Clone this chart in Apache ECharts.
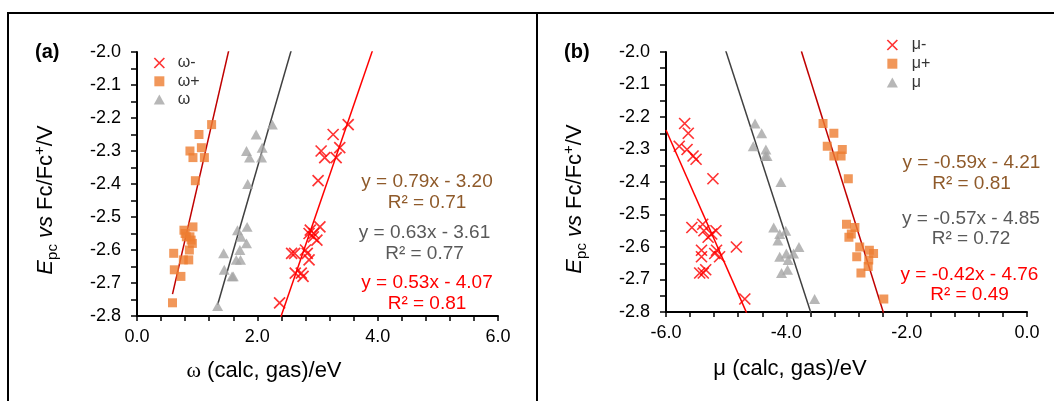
<!DOCTYPE html>
<html><head><meta charset="utf-8">
<script src="https://cdn.jsdelivr.net/npm/echarts@6/dist/echarts.min.js"></script>
<style>html,body{margin:0;padding:0;background:#fff;}#chart{width:1054px;height:401px;}</style>
</head><body><div id="chart"></div>
<script>
// ---------- Panel (a): omega descriptors ----------
const omegaMinusX = [3.51, 3.26, 3.06, 3.37, 3.12, 3.31, 3.01, 3.04, 2.88, 2.86, 2.94, 2.93, 2.99, 2.80, 2.83, 2.57, 2.62, 2.86, 2.63, 2.76, 2.73, 2.37];
const omegaMinusY = [-2.22, -2.25, -2.30, -2.29, -2.32, -2.32, -2.39, -2.53, -2.54, -2.55, -2.55, -2.56, -2.57, -2.60, -2.61, -2.61, -2.61, -2.63, -2.67, -2.68, -2.67, -2.76];
const omegaPlusX = [1.24, 1.03, 0.88, 1.07, 0.93, 1.12, 0.97, 0.78, 0.93, 0.82, 0.92, 0.88, 0.87, 0.77, 0.86, 0.61, 0.62, 0.73, 0.59, 0.80, 0.90];
const omegaPlusY = [-2.22, -2.25, -2.30, -2.29, -2.32, -2.32, -2.39, -2.54, -2.53, -2.56, -2.58, -2.56, -2.60, -2.63, -2.63, -2.61, -2.66, -2.68, -2.76, -2.55, -2.57];
const omegaX = [2.25, 1.98, 1.82, 2.08, 1.87, 2.07, 1.84, 1.67, 1.83, 1.73, 1.82, 1.71, 1.65, 1.72, 1.44, 1.45, 1.58, 1.60, 1.34];
const omegaY = [-2.22, -2.25, -2.30, -2.29, -2.32, -2.32, -2.40, -2.54, -2.53, -2.56, -2.58, -2.60, -2.63, -2.63, -2.61, -2.66, -2.68, -2.68, -2.77];

// ---------- Panel (b): mu descriptors ----------
const muMinusX = [-5.69, -5.63, -5.78, -5.65, -5.55, -5.50, -5.22, -5.57, -5.39, -5.37, -5.17, -5.30, -5.24, -5.41, -5.41, -5.16, -5.19, -5.11, -4.83, -5.44, -5.38, -5.34, -4.69];
const muMinusY = [-2.22, -2.25, -2.29, -2.30, -2.32, -2.33, -2.39, -2.54, -2.53, -2.55, -2.55, -2.57, -2.56, -2.61, -2.63, -2.61, -2.62, -2.63, -2.60, -2.68, -2.68, -2.67, -2.76];
const muPlusX = [-3.39, -3.21, -3.32, -3.21, -3.09, -3.07, -2.97, -3.00, -2.86, -2.92, -2.96, -2.78, -2.62, -2.55, -2.83, -2.63, -2.76, -2.64, -2.38];
const muPlusY = [-2.22, -2.25, -2.29, -2.32, -2.32, -2.30, -2.39, -2.53, -2.54, -2.56, -2.57, -2.60, -2.61, -2.62, -2.63, -2.64, -2.68, -2.66, -2.76];
const muX = [-4.52, -4.41, -4.55, -4.34, -4.32, -4.35, -4.09, -4.21, -4.01, -4.11, -4.14, -3.79, -4.00, -3.88, -4.11, -3.97, -3.98, -4.08, -3.53];
const muY = [-2.22, -2.25, -2.29, -2.30, -2.32, -2.32, -2.40, -2.54, -2.55, -2.56, -2.58, -2.60, -2.62, -2.62, -2.63, -2.64, -2.67, -2.68, -2.76];

// ---------- Trendlines (order: minus, plus, neutral) ----------
const seriesNamesA = ['ω-', 'ω+', 'ω'];
const seriesNamesB = ['μ-', 'μ+', 'μ'];
const slopesA = [0.53, 0.79, 0.63];
const interceptsA = [-4.07, -3.20, -3.61];
const r2A = [0.81, 0.71, 0.77];
const trendStartA = [2.37, 0.59, 1.34];
const trendEndA = [3.92, 1.53, 2.57];
const slopesB = [-0.42, -0.59, -0.57];
const interceptsB = [-4.76, -4.21, -4.85];
const r2B = [0.49, 0.81, 0.72];
const trendStartB = [-6.0, -3.75, -5.01];
const trendEndB = [-4.66, -2.38, -3.59];

// ---------- Axis ticks ----------
const yMin = -2.8, yMax = -2.0, yStep = 0.1;
const xMinA = 0, xMaxA = 6, xMinB = -6, xMaxB = 0, xStep = 2;

const FONT = '"Liberation Sans", Arial, sans-serif';
const RED = '#FF0000', ORANGE = '#ED7D31', GREY = '#A5A5A5';
const X_PATH = 'path://M0,0L10,10M10,0L0,10';
const SQ_PATH = 'path://M0,0H10V10H0Z';
const TRI_PATH = 'path://M5,0L10,9H0Z';

const zip = (xs, ys) => xs.map((x, i) => [x, ys[i]]);
const eqText = (m, c) => 'y = ' + m.toFixed(2) + 'x ' + (c < 0 ? '- ' : '+ ') + Math.abs(c).toFixed(2);
const r2Text = r => 'R² = ' + r.toFixed(2);

const chart = echarts.init(document.getElementById('chart'), null, {renderer: 'canvas'});

function xAxisCfg(grid, min, max) {
  return {
    gridIndex: grid, type: 'value', min: min, max: max, interval: xStep,
    axisLine: {onZero: false, lineStyle: {color: '#000', width: 2}},
    axisTick: {show: true, length: 5, lineStyle: {color: '#000', width: 1.5}},
    minorTick: {show: true, splitNumber: 5, length: 5, lineStyle: {color: '#000', width: 1.5}},
    splitLine: {show: false}, minorSplitLine: {show: false},
    axisLabel: {formatter: v => v.toFixed(1), fontSize: 18, fontFamily: FONT, color: '#000', margin: 12, hideOverlap: false}
  };
}
function yAxisCfg(grid) {
  return {
    gridIndex: grid, type: 'value', min: yMin, max: yMax, interval: yStep,
    axisLine: {onZero: false, lineStyle: {color: '#000', width: 2}},
    axisTick: {show: true, length: 6, lineStyle: {color: '#000', width: 1.5}},
    minorTick: {show: true, splitNumber: 2, length: 6, lineStyle: {color: '#000', width: 1.5}},
    splitLine: {show: false}, minorSplitLine: {show: false},
    axisLabel: {formatter: v => v.toFixed(1), fontSize: 18, fontFamily: FONT, color: '#000', margin: 16, hideOverlap: false}
  };
}

const markerStyles = [
  {symbol: X_PATH, size: 11, itemStyle: {color: 'rgba(0,0,0,0)', borderColor: RED, borderWidth: 1.7}},
  {symbol: SQ_PATH, size: 9, itemStyle: {color: ORANGE, borderWidth: 0}},
  {symbol: TRI_PATH, size: 11, itemStyle: {color: GREY, borderWidth: 0}}
];
const trendColors = ['#FF0000', '#C00000', '#404040'];
const eqColors = ['#FF0000', '#8F5A2A', '#595959'];

const dataA = [zip(omegaMinusX, omegaMinusY), zip(omegaPlusX, omegaPlusY), zip(omegaX, omegaY)];
const dataB = [zip(muMinusX, muMinusY), zip(muPlusX, muPlusY), zip(muX, muY)];

const series = [];
function addPanel(gi, names, data, slopes, intercepts, starts, ends) {
  for (let i = 0; i < 3; i++) {
    const m = slopes[i], c = intercepts[i];
    series.push({
      type: 'line', xAxisIndex: gi, yAxisIndex: gi, silent: true, symbol: 'none', clip: true,
      lineStyle: {color: trendColors[i], width: 1.5}, z: 1,
      data: [[starts[i], m * starts[i] + c], [ends[i], m * ends[i] + c]]
    });
  }
  for (let i = 0; i < 3; i++) {
    series.push({
      name: names[i], type: 'scatter', xAxisIndex: gi, yAxisIndex: gi,
      symbol: markerStyles[i].symbol, symbolSize: markerStyles[i].size, symbolKeepAspect: true,
      itemStyle: markerStyles[i].itemStyle, z: 3, data: data[i]
    });
  }
}
addPanel(0, seriesNamesA, dataA, slopesA, interceptsA, trendStartA, trendEndA);
addPanel(1, seriesNamesB, dataB, slopesB, interceptsB, trendStartB, trendEndB);

function legendCfg(names, left, top, itemWidth, gap) {
  return {
    orient: 'vertical', left: left, top: top, padding: 0, itemWidth: itemWidth, itemHeight: 10, itemGap: gap,
    selectedMode: false,
    textStyle: {fontSize: 16, lineHeight: 18, fontFamily: FONT, color: '#333'},
    data: names.map((n, i) => ({name: n, icon: markerStyles[i].symbol, itemStyle: markerStyles[i].itemStyle}))
  };
}

function txt(x, y, text, size, color, extra) {
  return Object.assign({
    type: 'text', x: x, y: y, silent: true,
    style: {text: text, fontSize: size, fontFamily: FONT, fill: color, align: 'center', verticalAlign: 'middle'}
  }, extra || {});
}
function yTitle(x, y) {
  return {
    type: 'text', x: x, y: y, rotation: Math.PI / 2, silent: true,
    style: {
      text: '{e|E}{s|pc}{v| vs }{n|Fc/Fc}{p|+}{n|/V}',
      align: 'center', verticalAlign: 'middle', fill: '#000', fontSize: 22, fontFamily: FONT,
      rich: {
        e: {fontStyle: 'italic', fontSize: 22, fontFamily: FONT, fill: '#000', lineHeight: 28},
        s: {fontSize: 15, fontFamily: FONT, fill: '#000', lineHeight: 15, verticalAlign: 'bottom'},
        v: {fontStyle: 'italic', fontSize: 22, fontFamily: FONT, fill: '#000', lineHeight: 28},
        n: {fontSize: 22, fontFamily: FONT, fill: '#000', lineHeight: 28},
        p: {fontSize: 15, fontFamily: FONT, fill: '#000', lineHeight: 15, verticalAlign: 'top'}
      }
    }
  };
}
function xTitle(x, y, sym, serif) {
  return {
    type: 'text', x: x, y: y, silent: true,
    style: {
      text: '{w|' + sym + '}{n| (calc, gas)/eV}', align: 'center', verticalAlign: 'middle', fill: '#000',
      fontSize: 22, fontFamily: FONT,
      rich: {
        w: {fontSize: 22, fontFamily: serif ? '"Liberation Serif", "Times New Roman", serif' : FONT, fill: '#000', lineHeight: 26},
        n: {fontSize: 22, fontFamily: FONT, fill: '#000', lineHeight: 26}
      }
    }
  };
}

const graphics = [
  {type: 'line', silent: true, shape: {x1: 7, y1: 13, x2: 1054, y2: 13}, style: {stroke: '#000', lineWidth: 2}},
  {type: 'line', silent: true, shape: {x1: 8, y1: 12, x2: 8, y2: 401}, style: {stroke: '#000', lineWidth: 2}},
  {type: 'line', silent: true, shape: {x1: 537, y1: 12, x2: 537, y2: 401}, style: {stroke: '#000', lineWidth: 2}},
  {type: 'text', x: 35, y: 52, silent: true, style: {text: '(a)', fontSize: 20, fontWeight: 'bold', fontFamily: FONT, fill: '#000', align: 'left', verticalAlign: 'middle'}},
  {type: 'text', x: 564, y: 52, silent: true, style: {text: '(b)', fontSize: 20, fontWeight: 'bold', fontFamily: FONT, fill: '#000', align: 'left', verticalAlign: 'middle'}},
  yTitle(46, 200), yTitle(575, 199),
  xTitle(264, 371, 'ω', true), xTitle(790, 369, 'μ', false)
];
// equation labels
const eqPosA = [[427, 282.5, 304], [427, 182, 203], [424.5, 232.5, 253.5]];
const eqPosB = [[969.5, 275, 295], [971.5, 163, 183.5], [971, 219, 238.5]];
for (let i = 0; i < 3; i++) {
  graphics.push(txt(eqPosA[i][0], eqPosA[i][1], eqText(slopesA[i], interceptsA[i]), 19, eqColors[i]));
  graphics.push(txt(eqPosA[i][0], eqPosA[i][2], r2Text(r2A[i]), 19, eqColors[i]));
  graphics.push(txt(eqPosB[i][0], eqPosB[i][1], eqText(slopesB[i], interceptsB[i]), 19, eqColors[i]));
  graphics.push(txt(eqPosB[i][0], eqPosB[i][2], r2Text(r2B[i]), 19, eqColors[i]));
}

chart.setOption({
  animation: false,
  backgroundColor: '#fff',
  textStyle: {fontFamily: FONT},
  grid: [
    {left: 137, top: 52, width: 361, height: 264, containLabel: false},
    {left: 666, top: 52, width: 361, height: 260, containLabel: false}
  ],
  xAxis: [xAxisCfg(0, xMinA, xMaxA), xAxisCfg(1, xMinB, xMaxB)],
  yAxis: [yAxisCfg(0), yAxisCfg(1)],
  legend: [legendCfg(seriesNamesA, 153.5, 54, 27, 0.3), legendCfg(seriesNamesB, 886.5, 36, 29, 0.7)],
  series: series,
  graphic: graphics
});
</script>
</body></html>
